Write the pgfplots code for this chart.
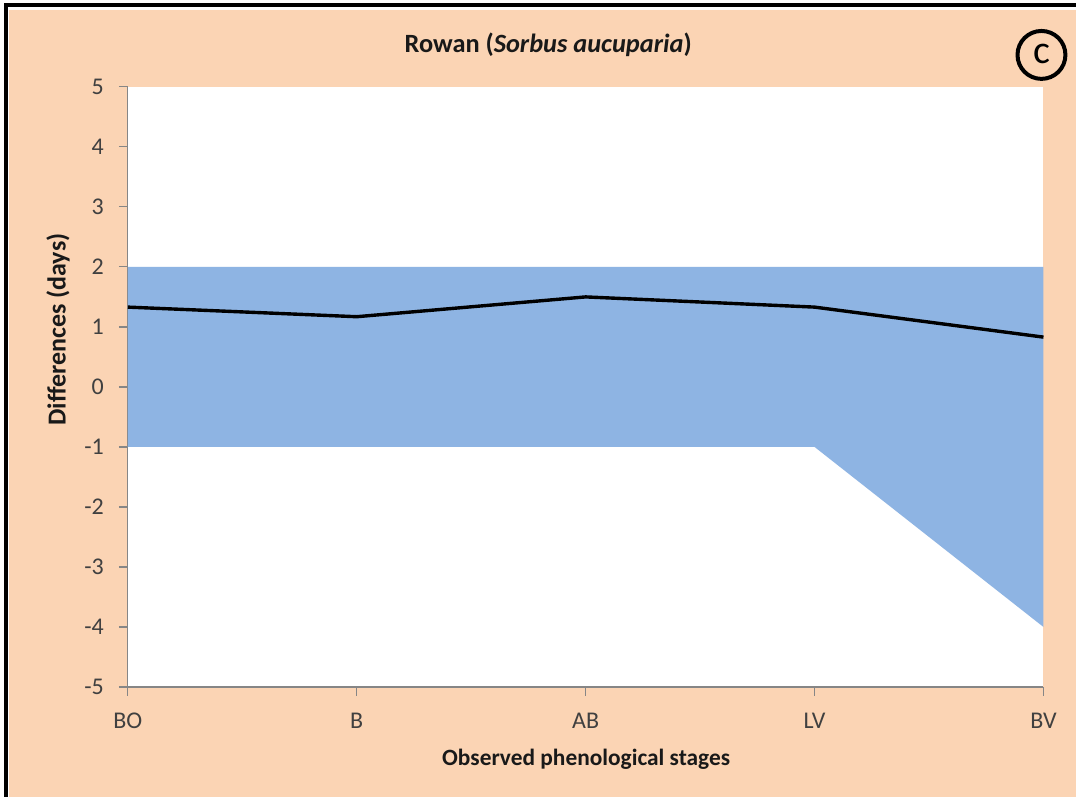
\documentclass[border=0pt]{standalone}
\usepackage{pgfplots}
\pgfplotsset{compat=1.18}
\usepackage{fontspec}
\setmainfont{Carlito}
\definecolor{peach}{HTML}{FBD4B4}
\definecolor{band}{HTML}{8EB4E3}
\definecolor{axgray}{HTML}{868686}
\definecolor{txtgray}{HTML}{404040}
\begin{document}
\begin{tikzpicture}
\begin{scope}[x=0.5pt,y=0.5pt]
  \fill[white] (0,0) rectangle (1078,798);
  \fill[peach] (9,0) rectangle (1078,788);
  \draw[black,line width=1.6pt] (6,0) -- (6,793) -- (1078,793);
\end{scope}
\begin{axis}[
  at={(64pt,55pt)}, anchor=south west,
  width=458.5pt, height=300.5pt, scale only axis,
  xmin=0, xmax=4, ymin=-5, ymax=5,
  axis background/.style={fill=white},
  axis x line*=bottom, axis y line*=left,
  axis line style={axgray, line width=0.6pt},
  every tick/.style={axgray, line width=0.6pt},
  tick align=outside, major tick length=4.5pt,
  xtick={0,1,2,3,4},
  xticklabels={BO,B,AB,LV,BV},
  ytick={-5,-4,-3,-2,-1,0,1,2,3,4,5},
  /pgf/number format/assume math mode=true,
  tick label style={font=\fontsize{12}{14}\selectfont, text=txtgray},
  xticklabel style={yshift=-5pt},
  yticklabel style={xshift=-4pt},
  clip=false,
]
\addplot[fill=band, draw=none] coordinates {(0,2) (1,2) (2,2) (3,2) (4,2) (4,-4) (3,-1) (2,-1) (1,-1) (0,-1)} -- cycle;
\addplot[black, line width=1.7pt] coordinates {(0,1.33) (1,1.17) (2,1.5) (3,1.33) (4,0.83)};
\end{axis}
\begin{scope}[x=0.5pt,y=0.5pt]
  \node[font=\fontsize{13.2}{16}\selectfont\bfseries, text=black!90] at (549,753) {Rowan (\textit{Sorbus aucuparia})};
  \node[font=\fontsize{13}{15}\selectfont\bfseries, text=black!90, rotate=90] at (58,468) {Differences (days)};
  \node[font=\fontsize{11.7}{14}\selectfont\bfseries, text=black!90] at (587,38) {Observed phenological stages};
  \draw[black, line width=2pt] (1043,743) circle (24);
  \node[font=\fontsize{20}{22}\selectfont] at (1043,744) {c};
  \path (0,0) rectangle (1078,798);
\end{scope}
\end{tikzpicture}
\end{document}
